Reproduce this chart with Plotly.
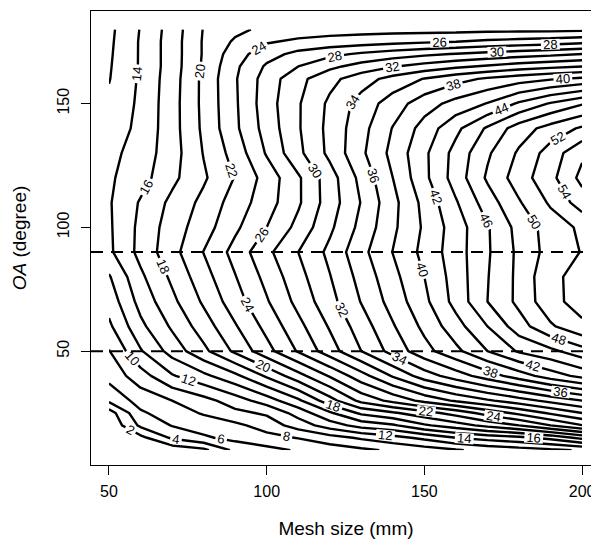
import plotly.graph_objects as go

# Mesh size (mm) grid
mesh_size = [50, 60, 70, 80, 90, 100, 110, 120, 130, 140, 150, 160, 170, 180, 190, 200]
# Opening angle OA (degree) grid
oa_deg = [10, 15, 20, 25, 30, 40, 50, 60, 70, 80, 90, 100, 110, 120, 130, 140, 150, 160, 165, 170, 175, 180]

# values, one row per OA level
z_oa010 = [0.0, 0.2, 0.6, 1.5, 4.5, 5.4, 6.2, 6.9, 7.6, 8.3, 9.0, 9.8, 10.6, 11.1, 11.6, 12.2]
z_oa015 = [0.0, 1.4, 4.3, 5.7, 6.6, 7.3, 8.1, 9.2, 10.3, 11.3, 12.5, 14.0, 14.8, 15.5, 16.6, 18.6]
z_oa020 = [0.3, 4.4, 6.1, 6.9, 7.5, 8.9, 10.9, 13.0, 14.8, 15.7, 17.7, 19.1, 20.6, 22.0, 24.0, 25.9]
z_oa025 = [1.0, 5.7, 7.0, 8.2, 9.5, 10.3, 12.8, 15.7, 18.4, 19.7, 21.2, 22.8, 24.8, 26.5, 28.3, 30.0]
z_oa030 = [4.4, 6.8, 8.0, 9.3, 11.0, 13.0, 15.6, 19.2, 22.6, 24.6, 26.6, 28.3, 29.7, 31.1, 32.6, 34.0]
z_oa040 = [6.7, 9.1, 11.8, 13.5, 15.5, 18.3, 21.25, 24.2, 27.2, 30.2, 33.0, 35.0, 37.0, 39.0, 41.0, 42.6]
z_oa050 = [7.9, 11.8, 14.8, 17.5, 20.4, 23.3, 26.2, 29.1, 32.0, 34.75, 37.3, 39.5, 42.0, 44.25, 45.5, 47.2]
z_oa060 = [9.6, 13.5, 16.3, 19.0, 21.8, 24.6, 27.4, 30.2, 33.0, 35.8, 38.5, 41.2, 44.0, 47.1, 49.7, 51.6]
z_oa070 = [10.8, 14.7, 17.5, 20.3, 23.1, 25.8, 28.6, 31.3, 34.1, 36.8, 39.5, 42.7, 46.0, 48.5, 51.4, 52.8]
z_oa080 = [11.8, 15.6, 18.4, 21.2, 23.9, 26.6, 29.3, 31.9, 34.7, 37.4, 40.0, 42.9, 45.9, 48.5, 51.6, 52.6]
z_oa090 = [13.6, 16.6, 19.3, 22.05, 24.7, 27.5, 30.0, 32.5, 35.4, 38.05, 40.6, 43.1, 45.75, 48.45, 50.8, 52.1]
z_oa100 = [13.7, 16.5, 19.0, 21.1, 23.6, 26.0, 28.6, 31.6, 34.6, 37.6, 40.3, 43.0, 45.8, 48.7, 50.9, 52.4]
z_oa110 = [13.8, 16.2, 18.5, 20.55, 22.9, 25.1, 27.7, 31.0, 34.1, 37.4, 40.6, 43.8, 47.0, 49.8, 52.3, 55.0]
z_oa120 = [13.7, 15.2, 17.5, 19.7, 22.1, 24.8, 27.7, 31.1, 34.6, 38.0, 41.5, 44.9, 48.3, 51.0, 53.4, 56.6]
z_oa130 = [13.4, 14.9, 17.1, 20.1, 22.8, 26.2, 29.5, 32.5, 35.6, 38.6, 41.6, 44.7, 47.7, 50.3, 52.9, 55.6]
z_oa140 = [12.9, 14.5, 17.2, 20.4, 23.6, 26.8, 29.8, 32.6, 35.3, 38.1, 40.8, 43.5, 46.3, 49.0, 50.8, 52.3]
z_oa150 = [12.4, 14.4, 17.2, 20.5, 23.7, 27.1, 29.8, 32.4, 34.8, 37.0, 39.1, 40.7, 42.1, 44.3, 46.2, 47.8]
z_oa160 = [11.9, 14.3, 17.1, 20.5, 23.8, 26.9, 29.4, 31.4, 33.1, 34.7, 36.1, 37.3, 38.3, 39.1, 39.8, 40.4]
z_oa165 = [11.8, 14.2, 17.0, 20.3, 23.6, 26.3, 28.0, 29.5, 30.8, 31.9, 32.8, 33.6, 34.3, 35.0, 35.5, 36.0]
z_oa170 = [11.7, 14.2, 17.0, 20.2, 23.1, 25.2, 26.6, 27.5, 28.3, 29.0, 29.6, 30.1, 30.6, 31.1, 31.5, 32.0]
z_oa175 = [11.6, 14.2, 17.0, 20.2, 22.3, 23.8, 24.4, 24.8, 25.1, 25.4, 25.7, 26.0, 26.4, 26.7, 27.0, 27.4]
z_oa180 = [11.5, 14.1, 16.9, 20.1, 21.5, 22.5, 22.9, 23.1, 23.2, 23.3, 23.3, 23.3, 23.4, 23.4, 23.4, 23.5]

z_grid = [z_oa010, z_oa015, z_oa020, z_oa025, z_oa030, z_oa040, z_oa050, z_oa060,
          z_oa070, z_oa080, z_oa090, z_oa100, z_oa110, z_oa120, z_oa130, z_oa140,
          z_oa150, z_oa160, z_oa165, z_oa170, z_oa175, z_oa180]

ref_lines_oa = [50, 90]
x_ticks = [50, 100, 150, 200]
y_ticks = [50, 100, 150]

FONT = "Liberation Sans, Arial, Helvetica, sans-serif"

fig = go.Figure()
fig.add_trace(go.Contour(
    x=mesh_size, y=oa_deg, z=z_grid,
    contours=dict(start=2, end=56, size=2, coloring="lines", showlabels=True,
                  labelfont=dict(family=FONT, size=13, color="black")),
    colorscale=[[0, "black"], [1, "black"]],
    line=dict(width=2.4, smoothing=0),
    showscale=False, hoverinfo="skip",
))

for yv in ref_lines_oa:
    fig.add_shape(type="line", xref="paper", x0=0, x1=1, yref="y", y0=yv, y1=yv,
                  line=dict(color="black", width=2, dash="12px,8px"))

fig.update_layout(
    width=599, height=545,
    margin=dict(l=83, r=6, t=3, b=88),
    paper_bgcolor="white", plot_bgcolor="white",
    font=dict(family=FONT, size=16, color="black"),
    showlegend=False,
)
fig.update_xaxes(
    range=[44.3, 206.0], tickvals=x_ticks, ticks="outside", ticklen=9, tickwidth=1,
    tickcolor="black", showline=True, linecolor="black", linewidth=1, mirror=True,
    showgrid=False, zeroline=False, tickfont=dict(size=16), automargin=False,
    ticklabelstandoff=3,
    title=dict(text="Mesh size (mm)", font=dict(size=19), standoff=22),
)
fig.update_yaxes(
    range=[4.0, 187.4], tickvals=y_ticks, ticks="outside", ticklen=9, tickwidth=1,
    tickcolor="black", showline=True, linecolor="black", linewidth=1, mirror=False,
    showgrid=False, zeroline=False, tickangle=-90, tickfont=dict(size=16),
    automargin=False, ticklabelstandoff=6,
    title=dict(text="<i>OA</i> (degree)", font=dict(size=19), standoff=22),
)

fig.write_html("out.html")
